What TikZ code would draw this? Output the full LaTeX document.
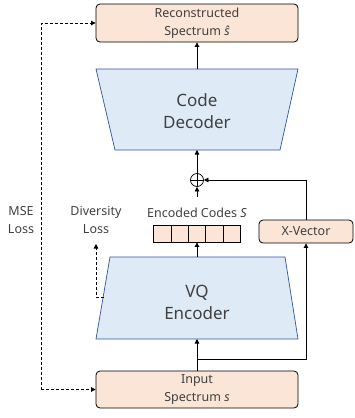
\documentclass[tikz,border=0pt]{standalone}
\usepackage{fontspec}
\setmainfont{Noto Sans}
\usetikzlibrary{arrows.meta}
\definecolor{peach}{HTML}{FBE5D6}
\definecolor{lblue}{HTML}{DEEBF7}
\definecolor{dblue}{HTML}{2F5597}
\definecolor{txt}{HTML}{404040}
\begin{document}
\begin{tikzpicture}[x=1pt,y=-1pt,
  box/.style={draw=black, fill=peach, rounded corners=4pt, line width=0.8pt, text=txt, align=center, inner sep=0pt},
  cell/.style={draw=black, fill=peach, line width=0.8pt, minimum width=17.4pt, minimum height=17pt, inner sep=0pt},
  trap/.style={draw=dblue, fill=lblue, line width=0.7pt},
  lbl/.style={text=txt, align=center, inner sep=0pt},
  small/.style={font=\fontsize{12.5}{18}\selectfont},
  big/.style={font=\fontsize{17}{22}\selectfont},
  arr/.style={-{Triangle[width=4.5pt,length=4.5pt]}, line width=0.7pt},
  dasharr/.style={arr, dash pattern=on 3pt off 2pt}]
\useasboundingbox (0,0) rectangle (354,418);
% boxes
\node[box, small, minimum width=202pt, minimum height=38pt] (rec) at (197,23) {Reconstructed\\Spectrum \textit{ŝ}};
\node[box, small, minimum width=202pt, minimum height=37pt] (inp) at (197,389.5) {Input\\Spectrum \textit{s}};
\node[box, small, minimum width=94pt, minimum height=23pt] (xv) at (306,231.5) {X-Vector};
% decoder
\draw[trap] (96,69) -- (298,69) -- (280,150) -- (115,150) -- cycle;
\node[lbl, big] (dec) at (197,111) {Code\\Decoder};
\coordinate (dectop) at (197,69);
\coordinate (decbot) at (197,150);
% encoder
\draw[trap] (110,257) -- (285,257) -- (298,339) -- (96,339) -- cycle;
\node[lbl, big] (enc) at (197,302) {VQ\\Encoder};
\coordinate (enctop) at (197,257);
\coordinate (encbot) at (197,339);
\coordinate (encleft) at (103.5,297);
% plus
\node[circle, draw, line width=0.7pt, inner sep=0pt, minimum size=13pt] (plus) at (197,180) {};
\draw[line width=0.7pt] (plus.north) -- (plus.south) (plus.west) -- (plus.east);
\coordinate (cstart) at (197,197);
% codes
\node[lbl, small] (codes) at (197,213) {Encoded Codes \textit{S}};
\node[cell] (c1) at (162.2,233.5) {};
\node[cell] (c2) at (179.6,233.5) {};
\node[cell] (c3) at (197,233.5) {};
\node[cell] (c4) at (214.4,233.5) {};
\node[cell] (c5) at (231.8,233.5) {};
% labels
\node[lbl, small] (mse) at (21,220) {MSE\\Loss};
\node[lbl, small] (div) at (96,220) {Diversity\\Loss};
% arrows
\draw[arr] (dectop) -- (rec.south);
\draw[arr] (plus.north) -- (decbot);
\draw[arr] (cstart) -- (plus.south);
\draw[arr] (enctop) -- (c3.south);
\draw[arr] (xv.north) |- (plus.east);
\draw[arr] (inp.north) -- (encbot);
\coordinate (br) at (197,359);
\draw[arr] (br) -| (xv.south);
% MSE loss
\coordinate (m1) at (41,23);
\coordinate (m2) at (41,389.5);
\draw[dasharr] (m2) -- (m1) -- (rec.west);
\draw[dasharr] (m2) -- (inp.west);
% diversity loss
\coordinate (d1) at (96,297);
\coordinate (d2) at (96,244);
\draw[dasharr] (encleft) -- (d1) -- (d2);
\end{tikzpicture}
\end{document}
